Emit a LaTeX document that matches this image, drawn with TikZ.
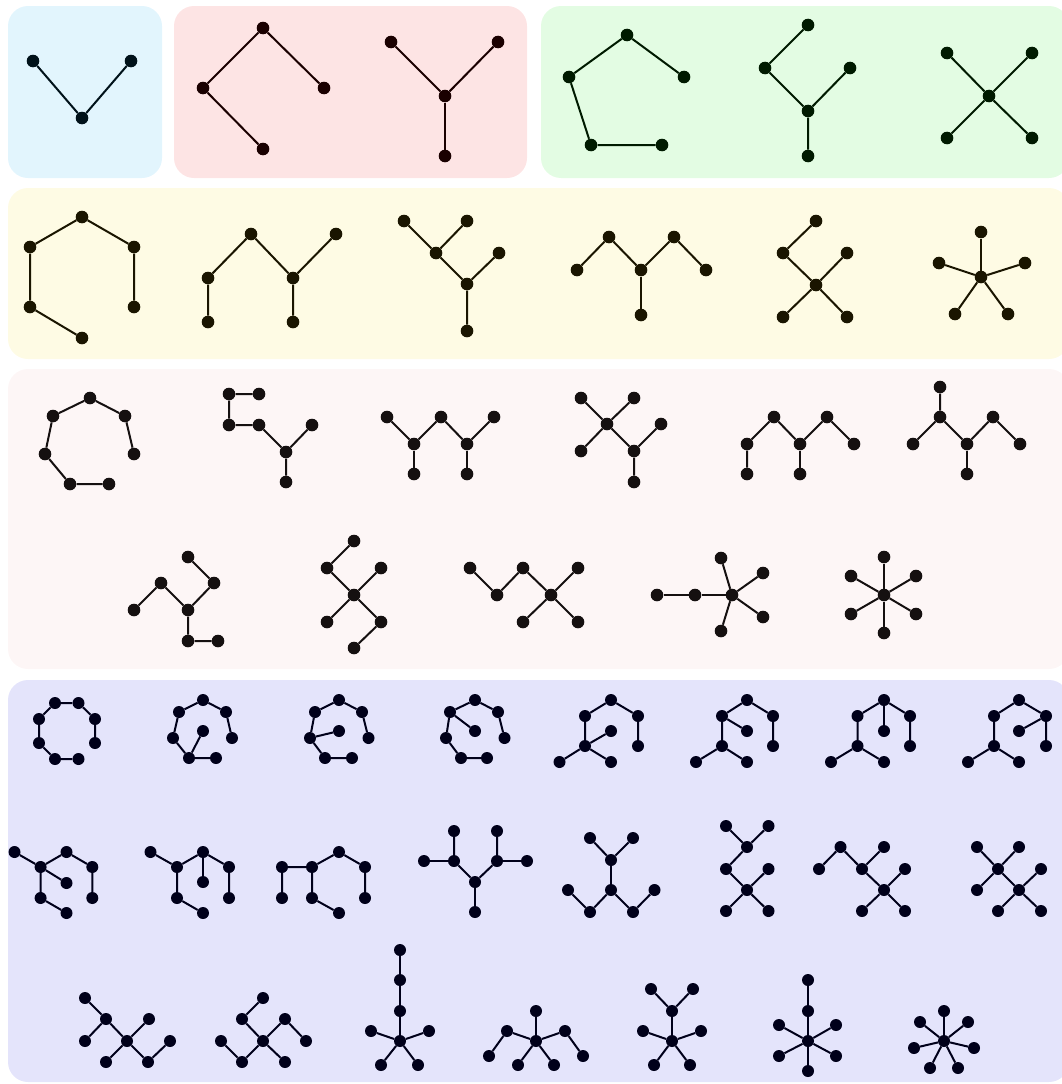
\documentclass[tikz,border=0pt]{standalone}
\begin{document}
\definecolor{panB}{HTML}{E2F5FD}
\definecolor{panR}{HTML}{FDE4E4}
\definecolor{panG}{HTML}{E3FCE3}
\definecolor{panY}{HTML}{FEFBE4}
\definecolor{panP}{HTML}{FDF6F6}
\definecolor{panL}{HTML}{E4E4FB}
\definecolor{inkB}{HTML}{00121A}
\definecolor{inkR}{HTML}{1A0000}
\definecolor{inkG}{HTML}{001A00}
\definecolor{inkY}{HTML}{1A1500}
\definecolor{inkP}{HTML}{151010}
\definecolor{inkL}{HTML}{00001A}
\begin{tikzpicture}[x=1pt,y=-1pt,
  panel/.style={fill=#1, rounded corners=20pt},
  vtx/.style={circle, fill=#1, draw=none, inner sep=0pt, minimum size=12.6pt},
  lnk/.style={draw=#1, line width=2pt},
  vB/.style={vtx=inkB}, vR/.style={vtx=inkR}, vG/.style={vtx=inkG},
  vY/.style={vtx=inkY}, vP/.style={vtx=inkP}, vL/.style={vtx=inkL, minimum size=12pt},
  eB/.style={lnk=inkB}, eR/.style={lnk=inkR}, eG/.style={lnk=inkG},
  eY/.style={lnk=inkY}, eP/.style={lnk=inkP}, eL/.style={lnk=inkL}]
\useasboundingbox (0,0) rectangle (1062,1084);
% panels
\fill[panel=panB] (8,6) rectangle (162,178);
\fill[panel=panR] (174,6) rectangle (527,178);
\fill[panel=panG] (541,6) rectangle (1069,178);
\fill[panel=panY] (8,188) rectangle (1069,359);
\fill[panel=panP] (8,369) rectangle (1069,669);
\fill[panel=panL] (8,680) rectangle (1069,1082);

% ---- n = 3
\foreach \n/\x/\y in {a/33/61,b/131/61,c/82/118} \node[vB] (T1\n) at (\x,\y) {};
\draw[eB] (T1a) -- (T1c) -- (T1b);

% ---- n = 4
\foreach \n/\x/\y in {a/263/28,b/203/88,c/263/149,d/324/88} \node[vR] (T2\n) at (\x,\y) {};
\draw[eR] (T2c) -- (T2b) -- (T2a) -- (T2d);
\foreach \n/\x/\y in {c/445/96,a/391/42,b/498/42,d/445/156} \node[vR] (T3\n) at (\x,\y) {};
\foreach \t in {a,b,d} \draw[eR] (T3c) -- (T3\t);

% ---- n = 5
\foreach \n/\x/\y in {a/627/35,b/569/77,c/684/77,d/591/145,e/662/145} \node[vG] (T4\n) at (\x,\y) {};
\draw[eG] (T4c) -- (T4a) -- (T4b) -- (T4d) -- (T4e);
\foreach \n/\x/\y in {a/808/25,b/765/68,c/850/68,d/808/111,e/808/156} \node[vG] (T5\n) at (\x,\y) {};
\draw[eG] (T5a) -- (T5b) -- (T5d) -- (T5e);
\draw[eG] (T5c) -- (T5d);
\foreach \n/\x/\y in {c/989/96,a/947/53,b/1032/53,d/947/138,e/1032/138} \node[vG] (T6\n) at (\x,\y) {};
\foreach \t in {a,b,d,e} \draw[eG] (T6c) -- (T6\t);

% ---- n = 6
\foreach \n/\x/\y in {a/82/217,b/30/247,c/134/247,d/30/307,e/134/307,f/82/338} \node[vY] (T7\n) at (\x,\y) {};
\draw[eY] (T7e) -- (T7c) -- (T7a) -- (T7b) -- (T7d) -- (T7f);
\foreach \n/\x/\y in {a/251/234,b/208/278,c/208/322,d/293/278,e/293/322,f/336/234} \node[vY] (T8\n) at (\x,\y) {};
\draw[eY] (T8c) -- (T8b) -- (T8a) -- (T8d) -- (T8e);
\draw[eY] (T8d) -- (T8f);
\foreach \n/\x/\y in {a/404/221,b/467/221,c/436/253,d/499/253,e/467/284,f/467/331} \node[vY] (T9\n) at (\x,\y) {};
\draw[eY] (T9a) -- (T9c) -- (T9e) -- (T9f);
\draw[eY] (T9b) -- (T9c);
\draw[eY] (T9d) -- (T9e);
\foreach \n/\x/\y in {a/577/270,b/609/237,c/641/270,d/674/237,e/706/270,f/641/315} \node[vY] (T10\n) at (\x,\y) {};
\draw[eY] (T10a) -- (T10b) -- (T10c) -- (T10d) -- (T10e);
\draw[eY] (T10c) -- (T10f);
\foreach \n/\x/\y in {a/816/221,b/783/253,c/847/253,d/816/285,e/783/317,f/847/317} \node[vY] (T11\n) at (\x,\y) {};
\draw[eY] (T11a) -- (T11b) -- (T11d) -- (T11e);
\draw[eY] (T11c) -- (T11d) -- (T11f);
\foreach \n/\x/\y in {o/981/277,a/981/232,b/939/263,c/1025/263,d/955/314,e/1008/314} \node[vY] (T12\n) at (\x,\y) {};
\foreach \t in {a,b,c,d,e} \draw[eY] (T12o) -- (T12\t);

% ---- n = 7
\foreach \n/\x/\y in {a/134/454,b/125/416,c/90/398,d/53/416,e/45/454,f/70/484,g/109/484} \node[vP] (T13\n) at (\x,\y) {};
\draw[eP] (T13a) -- (T13b) -- (T13c) -- (T13d) -- (T13e) -- (T13f) -- (T13g);
\foreach \n/\x/\y in {a/229/394,b/259/394,c/229/425,d/259/425,e/312/425,f/286/452,g/286/482} \node[vP] (T14\n) at (\x,\y) {};
\draw[eP] (T14b) -- (T14a) -- (T14c) -- (T14d) -- (T14f) -- (T14g);
\draw[eP] (T14e) -- (T14f);
\foreach \n/\x/\y in {a/387/417,b/414/444,c/441/417,d/467/444,e/494/417,f/414/474,g/467/474} \node[vP] (T15\n) at (\x,\y) {};
\draw[eP] (T15a) -- (T15b) -- (T15c) -- (T15d) -- (T15e);
\draw[eP] (T15b) -- (T15f);
\draw[eP] (T15d) -- (T15g);
\foreach \n/\x/\y in {a/581/398,b/634/398,c/607/424,d/581/451,e/661/424,f/634/451,g/634/482} \node[vP] (T16\n) at (\x,\y) {};
\draw[eP] (T16a) -- (T16c) -- (T16f) -- (T16g);
\draw[eP] (T16b) -- (T16c) -- (T16d);
\draw[eP] (T16e) -- (T16f);
\foreach \n/\x/\y in {a/747/474,b/747/444,c/774/417,d/800/444,e/800/474,f/827/417,g/854/444} \node[vP] (T17\n) at (\x,\y) {};
\draw[eP] (T17a) -- (T17b) -- (T17c) -- (T17d) -- (T17f) -- (T17g);
\draw[eP] (T17d) -- (T17e);
\foreach \n/\x/\y in {a/940/387,b/940/417,c/913/444,d/967/444,e/967/474,f/993/417,g/1020/444} \node[vP] (T18\n) at (\x,\y) {};
\draw[eP] (T18a) -- (T18b) -- (T18d) -- (T18f) -- (T18g);
\draw[eP] (T18b) -- (T18c);
\draw[eP] (T18d) -- (T18e);
\foreach \n/\x/\y in {a/188/557,b/214/583,c/161/583,d/134/610,e/188/610,f/188/641,g/218/641} \node[vP] (T19\n) at (\x,\y) {};
\draw[eP] (T19a) -- (T19b) -- (T19e) -- (T19f) -- (T19g);
\draw[eP] (T19d) -- (T19c) -- (T19e);
\foreach \n/\x/\y in {a/354/541,b/327/568,c/381/568,d/354/595,e/327/622,f/381/622,g/354/648} \node[vP] (T20\n) at (\x,\y) {};
\draw[eP] (T20a) -- (T20b) -- (T20d) -- (T20f) -- (T20g);
\draw[eP] (T20c) -- (T20d) -- (T20e);
\foreach \n/\x/\y in {a/470/568,b/497/595,c/523/568,d/551/595,e/578/568,f/523/622,g/578/622} \node[vP] (T21\n) at (\x,\y) {};
\draw[eP] (T21a) -- (T21b) -- (T21c) -- (T21d) -- (T21e);
\draw[eP] (T21f) -- (T21d) -- (T21g);
\foreach \n/\x/\y in {a/657/595,b/695/595,o/732/595,c/721/558,d/763/573,e/763/617,f/721/631} \node[vP] (T22\n) at (\x,\y) {};
\draw[eP] (T22a) -- (T22b) -- (T22o);
\foreach \t in {c,d,e,f} \draw[eP] (T22o) -- (T22\t);
\foreach \n/\x/\y in {o/884/595,a/884/557,b/884/633,c/851/576,d/916/576,e/851/614,f/916/614} \node[vP] (T23\n) at (\x,\y) {};
\foreach \t in {a,b,c,d,e,f} \draw[eP] (T23o) -- (T23\t);

% ---- n = 8, row 1
\foreach \n/\x/\y in {a/95/743,b/95/719,c/78.5/703,d/55/703,e/39/719,f/39/743,g/55/759,h/78.5/759} \node[vL] (T24\n) at (\x,\y) {};
\draw[eL] (T24a) -- (T24b) -- (T24c) -- (T24d) -- (T24e) -- (T24f) -- (T24g) -- (T24h);
\foreach \n/\x/\y in {a/203/700,b/179/712,c/226/712,d/232/738,e/173/738,f/203/731,g/189/758,h/216/758} \node[vL] (T25\n) at (\x,\y) {};
\draw[eL] (T25d) -- (T25c) -- (T25a) -- (T25b) -- (T25e) -- (T25g) -- (T25h);
\draw[eL] (T25g) -- (T25f);
\foreach \n/\x/\y in {a/339/700,b/315/712,c/362/712,d/368.5/738,e/310/738,f/339/731,g/325/758,h/352/758} \node[vL] (T26\n) at (\x,\y) {};
\draw[eL] (T26d) -- (T26c) -- (T26a) -- (T26b) -- (T26e) -- (T26g) -- (T26h);
\draw[eL] (T26e) -- (T26f);
\foreach \n/\x/\y in {a/475/700,b/450/712,c/498/712,d/504.5/738,e/446/738,f/475/731,g/461/758,h/487/758} \node[vL] (T27\n) at (\x,\y) {};
\draw[eL] (T27d) -- (T27c) -- (T27a) -- (T27b) -- (T27e) -- (T27g) -- (T27h);
\draw[eL] (T27b) -- (T27f);
\foreach \n/\x/\y in {a/611/700,b/585/716,c/638/716,d/638/746,e/585/746,f/611/731,g/559.5/762,h/611/762} \node[vL] (T28\n) at (\x,\y) {};
\draw[eL] (T28d) -- (T28c) -- (T28a) -- (T28b) -- (T28e) -- (T28g);
\draw[eL] (T28f) -- (T28e) -- (T28h);
\foreach \n/\x/\y in {a/747/700,b/722/716,c/773/716,d/773/746,e/722/746,f/747/731,g/696/762,h/747/762} \node[vL] (T29\n) at (\x,\y) {};
\draw[eL] (T29d) -- (T29c) -- (T29a) -- (T29b) -- (T29e) -- (T29g);
\draw[eL] (T29e) -- (T29h);
\draw[eL] (T29b) -- (T29f);
\foreach \n/\x/\y in {a/884/700,b/857.5/716,c/910/716,d/910/746,e/857.5/746,f/884/731,g/831/762,h/884/762} \node[vL] (T30\n) at (\x,\y) {};
\draw[eL] (T30d) -- (T30c) -- (T30a) -- (T30b) -- (T30e) -- (T30g);
\draw[eL] (T30e) -- (T30h);
\draw[eL] (T30a) -- (T30f);
\foreach \n/\x/\y in {a/1019/700,b/994/716,c/1046/716,d/1046/746,e/994/746,f/1019/731,g/968/762,h/1019/762} \node[vL] (T31\n) at (\x,\y) {};
\draw[eL] (T31d) -- (T31c) -- (T31a) -- (T31b) -- (T31e) -- (T31g);
\draw[eL] (T31e) -- (T31h);
\draw[eL] (T31c) -- (T31f);

% ---- n = 8, row 2
\foreach \n/\x/\y in {a/14.5/852,b/40.6/867,c/66.5/852,d/92.3/867,e/92.3/898,f/66.5/883,g/40.6/898,h/66.5/913} \node[vL] (T32\n) at (\x,\y) {};
\draw[eL] (T32a) -- (T32b) -- (T32c) -- (T32d) -- (T32e);
\draw[eL] (T32f) -- (T32b) -- (T32g) -- (T32h);
\foreach \n/\x/\y in {a/150.5/852,b/177/867,c/203/852,d/229/867,e/229/898,f/203/882,g/177/898,h/203/913} \node[vL] (T33\n) at (\x,\y) {};
\draw[eL] (T33a) -- (T33b) -- (T33c) -- (T33d) -- (T33e);
\draw[eL] (T33c) -- (T33f);
\draw[eL] (T33b) -- (T33g) -- (T33h);
\foreach \n/\x/\y in {a/282/867,b/282/898,c/312/867,d/339/852,e/365/867,f/365/898,g/312/898,h/339/913} \node[vL] (T34\n) at (\x,\y) {};
\draw[eL] (T34b) -- (T34a) -- (T34c) -- (T34d) -- (T34e) -- (T34f);
\draw[eL] (T34c) -- (T34g) -- (T34h);
\foreach \n/\x/\y in {a/454/831,b/497/831,c/424/861,d/454/861,e/497/861,f/527/861,g/475/882,h/475/912} \node[vL] (T35\n) at (\x,\y) {};
\draw[eL] (T35a) -- (T35d) -- (T35g) -- (T35e) -- (T35b);
\draw[eL] (T35c) -- (T35d);
\draw[eL] (T35e) -- (T35f);
\draw[eL] (T35g) -- (T35h);
\foreach \n/\x/\y in {a/590/838,b/633/838,c/611/860,d/611/890,e/568/890,f/590/912,g/633/912,h/654.5/890} \node[vL] (T36\n) at (\x,\y) {};
\draw[eL] (T36a) -- (T36c) -- (T36b);
\draw[eL] (T36c) -- (T36d);
\draw[eL] (T36e) -- (T36f) -- (T36d) -- (T36g) -- (T36h);
\foreach \n/\x/\y in {a/726/826,b/768.5/826,c/747/847,d/726/869,e/768.5/869,f/747/890,g/726/911,h/768.5/911} \node[vL] (T37\n) at (\x,\y) {};
\draw[eL] (T37a) -- (T37c) -- (T37b);
\draw[eL] (T37c) -- (T37d) -- (T37f) -- (T37e);
\draw[eL] (T37g) -- (T37f) -- (T37h);
\foreach \n/\x/\y in {a/819/869,b/840.5/847,c/862/869,d/884/847,e/905/869,f/884/890,g/862/911,h/905/911} \node[vL] (T38\n) at (\x,\y) {};
\draw[eL] (T38a) -- (T38b) -- (T38c) -- (T38d);
\draw[eL] (T38c) -- (T38f) -- (T38e);
\draw[eL] (T38g) -- (T38f) -- (T38h);
\foreach \n/\x/\y in {a/977/847,b/1019/847,c/998/869,d/977/890,e/1041/869,f/1019/890,g/998/911,h/1041/911} \node[vL] (T39\n) at (\x,\y) {};
\draw[eL] (T39a) -- (T39c) -- (T39b);
\draw[eL] (T39d) -- (T39c) -- (T39f) -- (T39e);
\draw[eL] (T39g) -- (T39f) -- (T39h);

% ---- n = 8, row 3
\foreach \n/\x/\y in {a/85/998,b/106/1019,c/85/1041,d/127/1041,e/149/1019,f/106/1062,g/148/1062,h/170/1041} \node[vL] (T40\n) at (\x,\y) {};
\draw[eL] (T40a) -- (T40b) -- (T40c);
\draw[eL] (T40b) -- (T40d) -- (T40e);
\draw[eL] (T40f) -- (T40d) -- (T40g) -- (T40h);
\foreach \n/\x/\y in {a/263/998,b/242/1019,c/285/1019,d/221/1041,e/263/1041,f/306/1041,g/242/1062,h/285/1062} \node[vL] (T41\n) at (\x,\y) {};
\draw[eL] (T41a) -- (T41b) -- (T41e) -- (T41c) -- (T41f);
\draw[eL] (T41d) -- (T41g) -- (T41e) -- (T41h);
\foreach \n/\x/\y in {a/400/950,b/400/980,c/400/1011,o/400/1041,d/371/1031,e/429/1031,f/381/1065,g/418/1065} \node[vL] (T42\n) at (\x,\y) {};
\draw[eL] (T42a) -- (T42b) -- (T42c) -- (T42o);
\foreach \t in {d,e,f,g} \draw[eL] (T42o) -- (T42\t);
\foreach \n/\x/\y in {o/536/1041,a/536/1011,b/507/1031,c/565/1031,d/518/1065,e/554/1065,f/489/1056,g/583/1056} \node[vL] (T43\n) at (\x,\y) {};
\foreach \t in {a,b,c,d,e} \draw[eL] (T43o) -- (T43\t);
\draw[eL] (T43b) -- (T43f);
\draw[eL] (T43c) -- (T43g);
\foreach \n/\x/\y in {o/672/1041,a/672/1011,b/651/989,c/693/989,d/643/1031,e/701/1031,f/654/1065,g/690/1065} \node[vL] (T44\n) at (\x,\y) {};
\foreach \t in {a,d,e,f,g} \draw[eL] (T44o) -- (T44\t);
\draw[eL] (T44b) -- (T44a) -- (T44c);
\foreach \n/\x/\y in {a/808/980,b/808/1011,o/808/1041,c/779/1025,d/836/1025,e/779/1056,f/836/1056,g/808/1071} \node[vL] (T45\n) at (\x,\y) {};
\draw[eL] (T45a) -- (T45b) -- (T45o);
\foreach \t in {c,d,e,f,g} \draw[eL] (T45o) -- (T45\t);
\foreach \n/\x/\y in {o/944/1041,a/944/1011,b/968/1022,c/974/1048,d/958/1068,e/930/1068,f/914/1048,g/920/1022} \node[vL] (T46\n) at (\x,\y) {};
\foreach \t in {a,b,c,d,e,f,g} \draw[eL] (T46o) -- (T46\t);
\end{tikzpicture}
\end{document}
